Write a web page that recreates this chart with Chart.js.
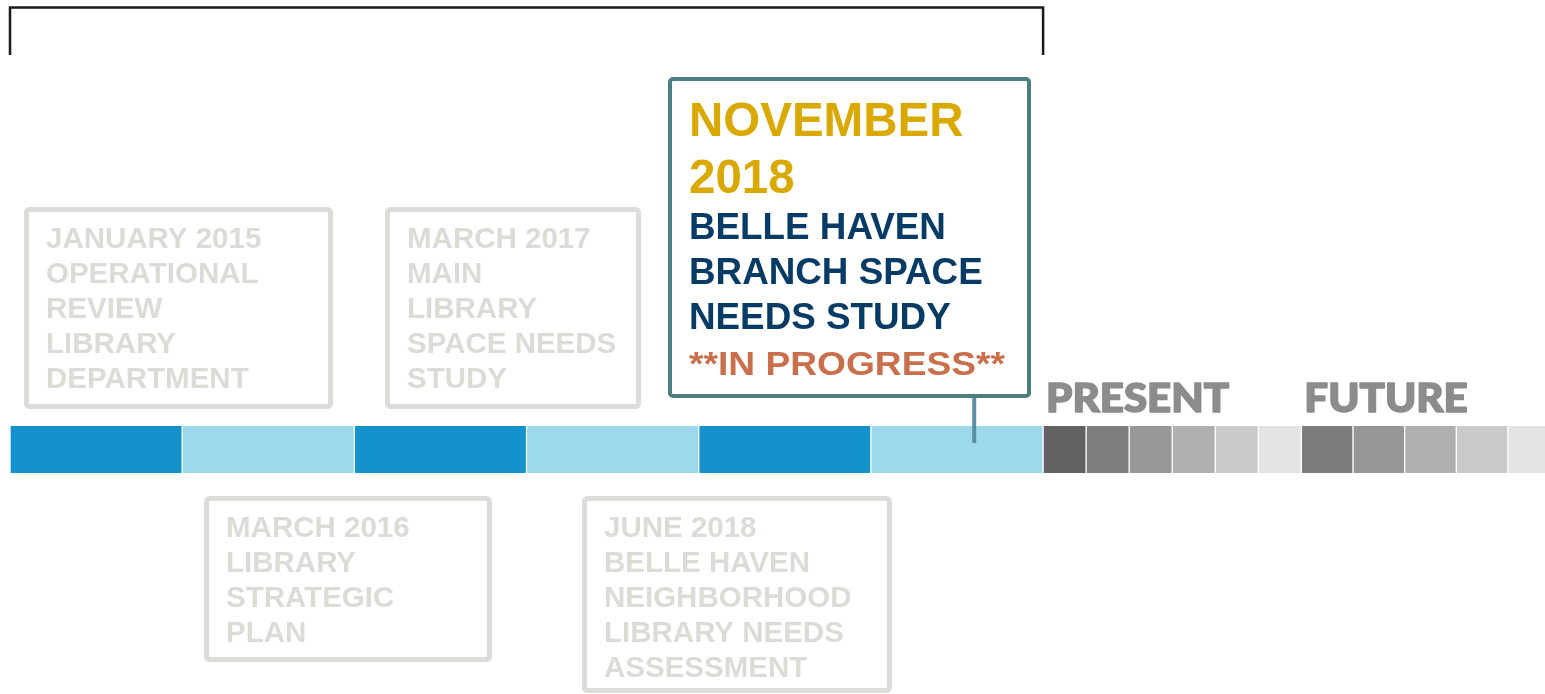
<!DOCTYPE html>
<html>
<head>
<meta charset="utf-8">
<script src="https://cdn.jsdelivr.net/npm/chart.js@4.4.0/dist/chart.umd.min.js"></script>
<style>
  html, body { margin: 0; padding: 0; background: #fff; }
  #wrap { position: relative; width: 1545px; height: 694px; }
</style>
</head>
<body>
<div id="wrap"><canvas id="timeline"></canvas></div>
<script>
// timeline blocks, measured in half-year periods from January 2015
const pastStarts = [0, 1, 2, 3, 4, 5];
const pastWidth = 1;
const presentStarts = [6, 6.25, 6.5, 6.75, 7, 7.25];
const presentWidth = 0.25;
const futureStarts = [7.5, 7.8, 8.1, 8.4, 8.7];
const futureWidth = 0.3;
const timelineEnd = 8.915;

const pastColors = ['#1492cb', '#9dd9ea', '#1492cb', '#9dd9ea', '#1492cb', '#9dd9ea'];
const presentColors = ['#626262', '#7e7e7e', '#989898', '#b0b0b0', '#cacaca', '#e4e4e4'];
const futureColors = ['#7c7c7c', '#969696', '#afafaf', '#cacaca', '#e4e4e4'];

// milestones
const milestoneLines = [
  ['JANUARY 2015', 'OPERATIONAL', 'REVIEW', 'LIBRARY', 'DEPARTMENT'],
  ['MARCH 2016', 'LIBRARY', 'STRATEGIC', 'PLAN'],
  ['MARCH 2017', 'MAIN', 'LIBRARY', 'SPACE NEEDS', 'STUDY'],
  ['JUNE 2018', 'BELLE HAVEN', 'NEIGHBORHOOD', 'LIBRARY NEEDS', 'ASSESSMENT']
];
const currentDate = ['NOVEMBER', '2018'];
const currentTitle = ['BELLE HAVEN', 'BRANCH SPACE', 'NEEDS STUDY'];
const currentStatus = '**IN PROGRESS**';
const currentMarker = 5.6;
const phaseLabels = ['PRESENT', 'FUTURE'];

// box layout (pixels)
const boxLayout = [
  { x: 24, y: 207, w: 309, h: 202, textY: 248 },
  { x: 204, y: 496, w: 288, h: 166, textY: 537 },
  { x: 385, y: 207, w: 256, h: 202, textY: 248 },
  { x: 582, y: 496, w: 310, h: 197, textY: 537 }
];

const blocks = [];
const colors = [];
pastStarts.forEach((s, i) => { blocks.push({ x: [s, s + pastWidth], y: 'timeline' }); colors.push(pastColors[i]); });
presentStarts.forEach((s, i) => { blocks.push({ x: [s, s + presentWidth], y: 'timeline' }); colors.push(presentColors[i]); });
futureStarts.forEach((s, i) => { blocks.push({ x: [s, s + futureWidth], y: 'timeline' }); colors.push(futureColors[i]); });

// draw text squeezed/stretched horizontally to a given width
function fitText(ctx, text, x, y, width) {
  const k = width / ctx.measureText(text).width;
  ctx.save();
  ctx.translate(x, y);
  ctx.scale(k, 1);
  ctx.fillText(text, 0, 0);
  ctx.restore();
}

const notes = {
  id: 'notes',
  afterDatasetsDraw(chart) {
    const ctx = chart.ctx;
    const xs = chart.scales.x;
    ctx.save();

    // bracket over the past periods
    const b0 = xs.getPixelForValue(pastStarts[0]);
    const b1 = xs.getPixelForValue(presentStarts[0]);
    ctx.strokeStyle = '#1a1a1a';
    ctx.lineWidth = 2.5;
    ctx.beginPath();
    ctx.moveTo(b0, 55); ctx.lineTo(b0, 7.5); ctx.lineTo(b1, 7.5); ctx.lineTo(b1, 55);
    ctx.stroke();

    // past milestone boxes
    ctx.textBaseline = 'alphabetic';
    boxLayout.forEach((b, i) => {
      ctx.strokeStyle = '#dcdcd8';
      ctx.lineWidth = 5;
      ctx.beginPath();
      ctx.roundRect(b.x + 2.5, b.y + 2.5, b.w - 5, b.h - 5, 3);
      ctx.stroke();
      ctx.fillStyle = '#dcdcd7';
      ctx.font = 'bold 29.5px "Liberation Sans", Arial, sans-serif';
      milestoneLines[i].forEach((t, j) => ctx.fillText(t, b.x + 22, b.textY + j * 35));
    });

    // current milestone
    const mx = xs.getPixelForValue(currentMarker);
    ctx.strokeStyle = '#5a8ea6';
    ctx.lineWidth = 4;
    ctx.beginPath(); ctx.moveTo(mx, 396); ctx.lineTo(mx, 443); ctx.stroke();

    ctx.strokeStyle = '#4c7e80';
    ctx.lineWidth = 4;
    ctx.beginPath();
    ctx.roundRect(670, 79, 359, 317, 3);
    ctx.stroke();

    ctx.fillStyle = '#d9a900';
    ctx.font = 'bold 47.5px "Liberation Sans", Arial, sans-serif';
    ctx.fillText(currentDate[0], 689, 136);
    ctx.fillText(currentDate[1], 689, 193);
    ctx.fillStyle = '#063b66';
    ctx.font = 'bold 36.8px "Liberation Sans", Arial, sans-serif';
    currentTitle.forEach((t, j) => ctx.fillText(t, 689, 239 + j * 45));
    ctx.fillStyle = '#c96f4c';
    ctx.font = 'bold 34px "Liberation Sans", Arial, sans-serif';
    fitText(ctx, currentStatus, 689, 375, 316);

    // phase labels
    ctx.fillStyle = '#8c8c8c';
    ctx.strokeStyle = '#8c8c8c';
    ctx.lineWidth = 1.6;
    ctx.lineJoin = 'round';
    ctx.font = '900 40px Lato, "Open Sans", sans-serif';
    const k = 183 / ctx.measureText(phaseLabels[0]).width;
    [presentStarts[0], futureStarts[0]].forEach((v, i) => {
      ctx.save();
      ctx.translate(xs.getPixelForValue(v) + 3, 412);
      ctx.scale(k, 1);
      ctx.fillText(phaseLabels[i], 0, 0);
      ctx.strokeText(phaseLabels[i], 0, 0);
      ctx.restore();
    });

    ctx.restore();
  }
};

new Chart(document.getElementById('timeline'), {
  type: 'bar',
  data: {
    labels: ['timeline'],
    datasets: [{
      data: blocks,
      backgroundColor: colors,
      borderColor: '#ffffff',
      borderWidth: { left: 1, right: 1, top: 0, bottom: 0 },
      borderSkipped: false,
      barThickness: 47
    }]
  },
  options: {
    indexAxis: 'y',
    responsive: true,
    maintainAspectRatio: false,
    animation: false,
    layout: { padding: { left: 10, right: 0, top: 205, bottom: 0 } },
    scales: {
      x: { type: 'linear', min: 0, max: timelineEnd, display: false },
      y: { type: 'category', display: false }
    },
    plugins: { legend: { display: false }, tooltip: { enabled: false } }
  },
  plugins: [notes]
});
</script>
</body>
</html>
